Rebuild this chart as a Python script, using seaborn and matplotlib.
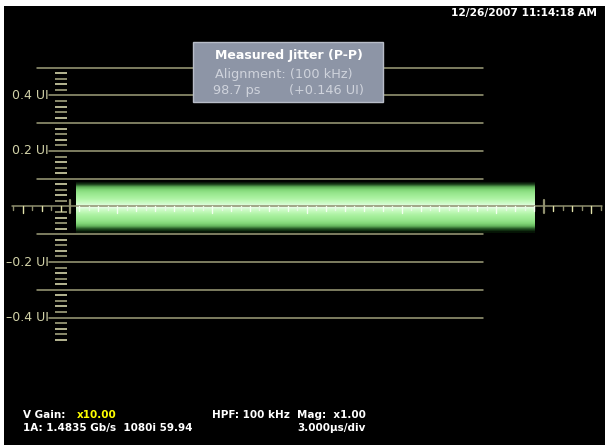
import numpy as np
import pandas as pd
import seaborn as sns
import matplotlib
matplotlib.use("Agg")
import matplotlib.pyplot as plt
from matplotlib.patches import Rectangle

# ---- graticule levels (unit intervals) ----
labeled_levels = [0.4, 0.2, -0.2, -0.4]
labeled_text = ["0.4 UI", "0.2 UI", "\u20130.2 UI", "\u20130.4 UI"]
plain_levels = [0.5, 0.3, 0.1, -0.1, -0.3]

# ---- jitter trace: sweep extent in horizontal divisions ----
trace_start_div = 0.13
trace_end_div = 9.8

# ---- vertical intensity profile of the jitter band (top row = +0.09 UI, step 0.01 UI) ----
band_offsets = [0.09, 0.08, 0.07, 0.06, 0.05, 0.04, 0.03, 0.02, 0.01, 0.0,
                -0.01, -0.02, -0.03, -0.04, -0.05, -0.06, -0.07, -0.08, -0.09]
band_red = [0, 25, 95, 130, 148, 160, 172, 190, 210, 238,
            210, 190, 172, 160, 148, 130, 100, 35, 5]
band_green = [0, 60, 175, 215, 228, 236, 242, 248, 252, 255,
              252, 248, 242, 236, 228, 215, 180, 85, 20]
band_blue = [0, 25, 88, 120, 138, 150, 162, 182, 205, 238,
             205, 182, 162, 150, 138, 120, 92, 35, 5]

# ---- readouts ----
readout_title = "Measured Jitter (P-P)"
readout_alignment = "Alignment: (100 kHz)"
jitter_ps = 98.7
jitter_ui = 0.146
timestamp = "12/26/2007 11:14:18 AM"
vgain_label = "V Gain:"
vgain_value = "x10.00"
hpf_text = "HPF: 100 kHz"
mag_text = "Mag:  x1.00"
signal_text = "1A: 1.4835 Gb/s  1080i 59.94"
timebase_text = "3.000\u00b5s/div"

sns.set_theme(style="dark", rc={"axes.facecolor": "black",
                                "figure.facecolor": "white",
                                "axes.grid": False})
plt.rcParams["font.family"] = ["DejaVu Sans"]

W, H = 605, 445
fig = plt.figure(figsize=(W / 100, H / 100), dpi=100)
# screen area (black) sits slightly inside the white frame
AX_L, AX_T = 4, 6
ax = fig.add_axes([AX_L / W, 0, (W - AX_L) / W, (H - AX_T) / H])

# screen scale: 0 div at x=70 px, 47.37 px/div; 0 UI at y=206.5 px, 277.5 px/UI
PX_DIV, X0 = 47.37, 70.0
PX_UI, Y0 = 277.5, 206.5


def dx(px):
    return (px - X0) / PX_DIV


def dy(py):
    return (Y0 - py) / PX_UI


GRID_C = "#9e9e7a"
LABEL_C = "#d2d2a8"

# ---- graticule lines ----
rows = []
for lv in plain_levels:
    rows += [{"x": dx(37), "y": lv, "level": lv}, {"x": dx(483), "y": lv, "level": lv}]
for lv in labeled_levels:
    rows += [{"x": dx(49), "y": lv, "level": lv}, {"x": dx(483), "y": lv, "level": lv}]
grid_df = pd.DataFrame(rows)
sns.lineplot(data=grid_df, x="x", y="y", units="level", estimator=None,
             sort=False, color=GRID_C, lw=1.1, ax=ax, zorder=1)

for lv, txt in zip(labeled_levels, labeled_text):
    ax.text(dx(48.5), lv, txt, ha="right", va="center", color=LABEL_C,
            fontsize=9, zorder=4)

# ---- vertical ruler minor ticks (every 0.02 UI) ----
for k in range(-24, 25):
    if k % 5 == 0:
        continue
    c = "#d4d4aa" if k % 2 == 0 else "#a2a27e"
    ax.plot([dx(55), dx(67)], [k * 0.02, k * 0.02], color=c, lw=1.2,
            solid_capstyle="butt", zorder=1)

# ---- jitter band ----
band = np.stack([np.array(band_red), np.array(band_green), np.array(band_blue)],
                axis=-1) / 255.0
band = np.repeat(band[:, None, :], 2, axis=1)
half = (band_offsets[0] - band_offsets[1]) / 2
ax.imshow(band, extent=[trace_start_div, trace_end_div,
                        band_offsets[-1] - half, band_offsets[0] + half],
          aspect="auto", interpolation="bilinear", zorder=2)

# ---- horizontal axis with time ticks ----
ax.plot([dx(12), dx(602)], [0, 0], color="#8f8f6e", lw=1.1, zorder=3)
for i in range(-6, 57):
    t = i * 0.2
    inside = trace_start_div <= t <= trace_end_div
    if i in (0, 50):
        ax.plot([t, t], [0.022, -0.022], color="#8f8f6e", lw=1.6, zorder=3)
        continue
    if i % 2:
        ln = 7 if i % 5 == 0 else 5
        c = "#f4fff0" if inside else "#e2e2aa"
    else:
        ln = 4
        c = "#e8f8e4" if inside else "#8f8f6e"
    ax.plot([t, t], [0, -ln / PX_UI], color=c, lw=1.0, zorder=3)

# ---- measurement readout box ----
ax.add_patch(Rectangle((dx(193), dy(102)), dx(383) - dx(193), dy(42) - dy(102),
                       facecolor="#8d95a6", edgecolor="#b8bdc8", lw=1.0, zorder=5))
ax.text(dx(288.5), dy(56), readout_title, ha="center", va="center",
        color="white", fontsize=9, fontweight="bold", zorder=6)
ax.text(dx(215), dy(74.5), readout_alignment, ha="left", va="center",
        color="#cfd3dc", fontsize=9.3, zorder=6)
ax.text(dx(213), dy(91), f"{jitter_ps:.1f} ps", ha="left", va="center",
        color="#cfd3dc", fontsize=9.3, zorder=6)
ax.text(dx(364), dy(91), f"(+{jitter_ui:.3f} UI)", ha="right", va="center",
        color="#cfd3dc", fontsize=9.3, zorder=6)

# ---- status text ----
ax.text(dx(597), dy(13), timestamp, ha="right", va="center", color="white",
        fontsize=7.7, fontweight="bold")
st = dict(va="center", color="white", fontsize=7.5, fontweight="bold")
ax.text(dx(23), dy(414.5), vgain_label, ha="left", **st)
ax.text(dx(77), dy(414.5), vgain_value, ha="left",
        **{**st, "color": "#ffff00"})
ax.text(dx(212), dy(414.5), hpf_text, ha="left", **st)
ax.text(dx(297), dy(414.5), mag_text, ha="left", **st)
ax.text(dx(23), dy(428), signal_text, ha="left", **st)
ax.text(dx(297), dy(428), timebase_text, ha="left", **st)

ax.set_xlim(dx(AX_L), dx(W))
ax.set_ylim(dy(H), dy(AX_T))
ax.set_xticks([])
ax.set_yticks([])
ax.set_xlabel("")
ax.set_ylabel("")
for s in ax.spines.values():
    s.set_visible(False)

fig.savefig("out.png", dpi=100, facecolor="white")
